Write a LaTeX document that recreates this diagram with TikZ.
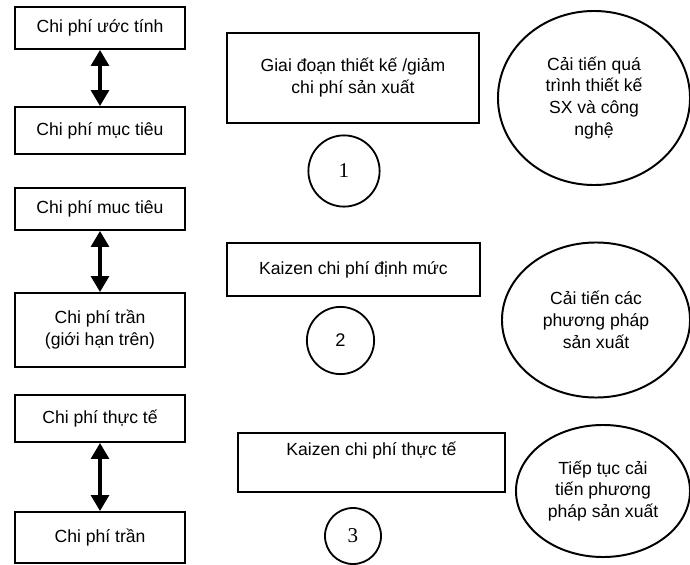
\documentclass[tikz,border=0pt]{standalone}
\usepackage{fontspec}
\setmainfont{Liberation Sans}
\newfontfamily\sofont{Liberation Serif}
\usetikzlibrary{shapes,arrows.meta}

\begin{document}
\begin{tikzpicture}[x=0.025cm,y=-0.025cm,
	font=\fontsize{12.5}{15.6}\selectfont,
	chiphi/.style={rectangle,draw,line width=1.4pt,minimum width=4.25cm,align=center},
	giaidoan/.style={rectangle,draw,line width=1.4pt,align=center},
	so/.style={circle,draw,line width=1.3pt,inner sep=0pt},
	caitien/.style={ellipse,draw,line width=1.4pt,inner sep=0pt,align=center},
	mui/.style={{Triangle[width=0.45cm,length=0.4cm]}-{Triangle[width=0.45cm,length=0.4cm]},line width=2.2pt}]

		\useasboundingbox (0,0) rectangle (690,565);

		\node[chiphi,minimum height=1.05cm] (uoc) at (100,28) {Chi phí ước tính};
		\node[chiphi,minimum height=1.175cm] (muctieu1) at (100,130.5) {Chi phí mục tiêu};
		\node[chiphi,minimum height=1.05cm] (muctieu2) at (100,209) {Chi phí muc tiêu};
		\node[chiphi,minimum height=1.85cm] (tran1) at (100,330) {Chi phí trần\\(giới hạn trên)};
		\node[chiphi,minimum height=1.175cm] (thucte) at (100,418.5) {Chi phí thực tế};
		\node[chiphi,minimum height=1.275cm] (tran2) at (100,537.5) {Chi phí trần};

		\node[giaidoan,minimum width=6.3cm,minimum height=2.25cm] (thietke) at (353,78)
			{Giai đoạn thiết kế /giảm\\chi phí sản xuất};
		\node[giaidoan,minimum width=6.325cm,minimum height=1.325cm] (dinhmuc) at (353.5,269.5)
			{Kaizen chi phí định mức};
		\node[giaidoan,minimum width=6.675cm,inner ysep=0.1cm,text height=0.45cm,text depth=0.825cm] (kzthucte) at (371.5,462.5)
			{Kaizen chi phí thực tế};

		\node[so,minimum size=1.78cm,font=\sofont\fontsize{15}{17}\selectfont] (so1) at (344,171) {1};
		\node[so,minimum size=1.68cm,font=\fontsize{13}{15}\selectfont] (so2) at (340.5,340.5) {2};
		\node[so,minimum size=1.4cm,font=\sofont\fontsize{15}{17}\selectfont] (so3) at (353,536) {3};

		\node[caitien,minimum width=4.8cm,minimum height=4.35cm] (ct1) at (594,98)
			{Cải tiến quá\\trình thiết kế\\SX và công\\nghệ};
		\node[caitien,minimum width=4.7cm,minimum height=3.875cm] (ct2) at (596,320)
			{Cải tiến các\\phương pháp\\sản xuất};
		\node[caitien,minimum width=4.35cm,minimum height=3.3cm] (ct3) at (603,491)
			{Tiếp tục cải\\tiến phương\\pháp sản xuất};

		\draw[mui] (uoc) -- (muctieu1);
		\draw[mui] (muctieu2) -- (tran1);
		\draw[mui] (thucte) -- (tran2);

	\end{tikzpicture}
\end{document}
